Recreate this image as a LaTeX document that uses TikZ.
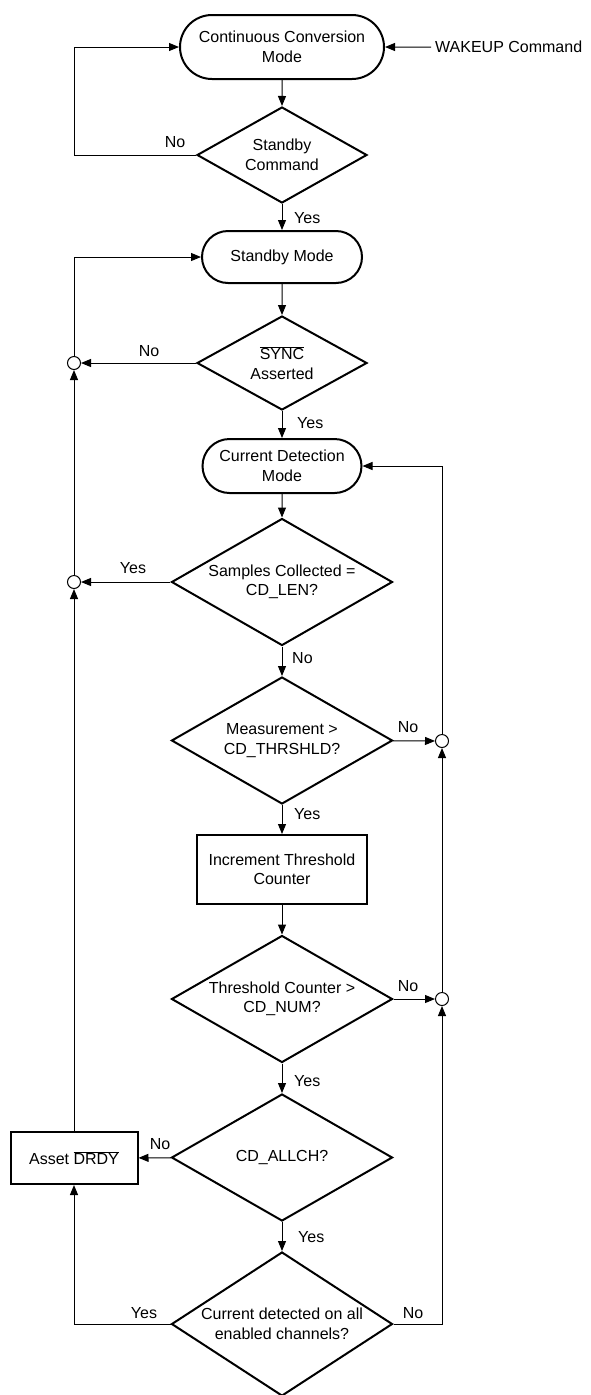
\documentclass[tikz,border=0pt]{standalone}
\usepackage{fontspec}
\setmainfont{Liberation Sans}
\usetikzlibrary{arrows.meta,shapes.geometric,shapes.misc}

\begin{document}
\begin{tikzpicture}[x=1pt, y=-1pt, >={Triangle[length=10pt,width=8pt]},
  every node/.style={font=\fontsize{16}{19.5}\selectfont, align=center},
  mode/.style={draw, rounded rectangle, line width=2pt, inner sep=0pt},
  decision/.style={draw, diamond, line width=2pt, inner sep=0pt, shape aspect=1.74,
    minimum width=221pt, minimum height=127pt},
  proc/.style={draw, rectangle, line width=2pt, inner sep=0pt},
  junction/.style={draw, circle, line width=1pt, minimum size=13pt, inner sep=0pt},
  flow/.style={->, line width=1pt},
  lbl/.style={inner sep=0pt}]
  \useasboundingbox (0,0) rectangle (591,1395);

  \node[mode, minimum width=204pt, minimum height=64pt] (ccm) at (282,47) {Continuous Conversion\\Mode};
  \node[anchor=west, inner sep=4pt] (wake) at (431,47) {WAKEUP Command};
  \node[decision, minimum width=170pt, minimum height=96pt, shape aspect=1.79] (stbycmd) at (282,155) {Standby\\Command};
  \node[mode, minimum width=160pt, minimum height=52pt] (stby) at (282,257) {Standby Mode};
  \node[decision, minimum width=170pt, minimum height=94pt, shape aspect=1.79] (sync) at (282,363) {$\overline{\mbox{SYNC}}$\\Asserted};
  \node[mode, minimum width=159pt, minimum height=54pt] (cdm) at (282,466) {Current Detection\\Mode};
  \node[decision] (samples) at (282,582) {Samples Collected =\\CD\_LEN?};
  \node[decision] (meas) at (282,740.5) {Measurement >\\CD\_THRSHLD?};
  \node[proc, minimum width=170pt, minimum height=69pt] (incr) at (282,869.5) {Increment Threshold\\Counter};
  \node[decision] (thr) at (282,999) {Threshold Counter >\\CD\_NUM?};
  \node[decision] (allch) at (282,1157.5) {CD\_ALLCH?};
  \node[decision, minimum height=144pt, shape aspect=1.535] (cur) at (282,1324) {Current detected on all\\enabled channels?};
  \node[proc, minimum width=127pt, minimum height=52pt] (drdy) at (74,1158) {Asset $\overline{\mbox{DRDY}}$};

  \node[junction] (jsync) at (74,363) {};
  \node[junction] (jlen) at (74,582) {};
  \node[junction] (jthr) at (442,741) {};
  \node[junction] (jnum) at (442,999) {};

  \draw[flow] (ccm) -- (stbycmd);
  \draw[flow] (wake) -- (ccm);
  \draw[flow] (stbycmd.west) -- (stbycmd.west -| jsync) |- (ccm.west);
  \draw[flow] (stbycmd) -- (stby);
  \draw[flow] (stby) -- (sync);
  \draw[flow] (sync) -- (jsync);
  \draw[flow] (jsync.north) |- (stby.west);
  \draw[flow] (sync) -- (cdm);
  \draw[flow] (cdm) -- (samples);
  \draw[flow] (samples) -- (jlen);
  \draw[flow] (jlen) -- (jsync);
  \draw[flow] (samples) -- (meas);
  \draw[flow] (meas) -- (jthr);
  \draw[flow] (jthr.north) |- (cdm.east);
  \draw[flow] (meas) -- (incr);
  \draw[flow] (incr) -- (thr);
  \draw[flow] (thr) -- (jnum);
  \draw[flow] (jnum) -- (jthr);
  \draw[flow] (thr) -- (allch);
  \draw[flow] (allch) -- (drdy);
  \draw[flow] (drdy) -- (jlen);
  \draw[flow] (allch) -- (cur);
  \draw[flow] (cur.west) -| (drdy.south);
  \draw[flow] (cur.east) -| (jnum.south);

  \node[lbl] (cmdno) at (175,142) {No};
  \node[lbl, anchor=west] (cmdyes) at (294,218) {Yes};
  \node[lbl] (syncno) at (149,351) {No};
  \node[lbl, anchor=west] (syncyes) at (297,423) {Yes};
  \node[lbl] (lenyes) at (133,568) {Yes};
  \node[lbl, anchor=west] (lenno) at (292,658) {No};
  \node[lbl] (measno) at (408,727) {No};
  \node[lbl, anchor=west] (measyes) at (294,814) {Yes};
  \node[lbl] (thrno) at (408,986) {No};
  \node[lbl, anchor=west] (thryes) at (294,1081) {Yes};
  \node[lbl] (allchno) at (160,1144) {No};
  \node[lbl, anchor=west] (allchyes) at (298,1237) {Yes};
  \node[lbl] (curyes) at (144,1313) {Yes};
  \node[lbl] (curno) at (413,1313) {No};
\end{tikzpicture}
\end{document}
